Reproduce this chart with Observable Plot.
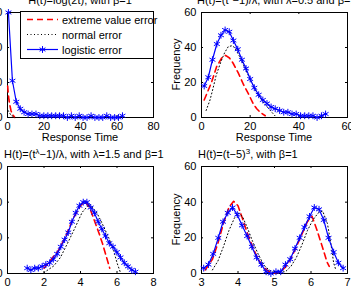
<!DOCTYPE html>
<html>
<head>
<meta charset="utf-8">
<script src="https://cdn.jsdelivr.net/npm/d3@7"></script>
<script src="https://cdn.jsdelivr.net/npm/@observablehq/plot@0.6"></script>
<style>
  html, body { margin: 0; padding: 0; background: #fff; }
  #fig { position: relative; width: 351px; height: 288px; overflow: hidden; }
  #fig svg { position: absolute; left: 0; top: 0; }
</style>
</head>
<body>
<div id="fig"></div>
<script>
// ---- Panel 1: H(t)=log(2t), beta=1 ----
const p1LogisticT = [0.5,2.7,4.8,7.0,9.1,11.3,13.4,15.6,17.7,19.9,22.1,24.2,26.4,28.5,30.7,32.8,35.0,37.1,39.3,41.4,43.6,45.8,47.9,50.1,52.2,54.4,56.5,58.7,60.8,63.0];
const p1LogisticF = [60,21,9,5,3,2,2,2,1,1,1,1,1,1,1,0,1,0,1,0,0,1,0,0,0,1,0,0,0,1];
const p1ExtremeT = [0.1,0.4,0.8,1.3,1.9,2.6,3.3,4.0];
const p1ExtremeF = [18,14,10,7,4,2,1,0];
const p1NormalT = [0.3,0.9,1.5,2.1,2.7,3.3,4.0,5.0,6.0];
const p1NormalF = [4,3,2,1,1,0,0,0,0];

// ---- Panel 2: H(t)=(t^λ−1)/λ, λ=0.5 ----
const p2LogisticT = [1.1,2.8,4.5,6.3,8.0,9.7,11.4,13.1,14.9,16.6,18.3,20.0,21.7,23.5,25.2,26.9,28.6,30.3,32.1,33.8,35.5,37.2,38.9,40.7,42.4,44.1,45.8,47.5,49.3,51.0];
const p2LogisticF = [18,23,33,42,47,50,49,44,39,33,28,22,17,13,10,8,6,5,4,3,3,2,2,1,1,1,1,0,1,2];
const p2ExtremeT = [1.1,2.6,4.1,6.2,8.3,9.9,11.5,13.0,15.1,17.2,19.3,21.3,22.7,24.1,26.2];
const p2ExtremeF = [10,15,20,29,34,35.5,34,31,25.5,19,13.5,7.7,5,3,1];
const p2NormalT = [1.9,3.5,4.8,6.0,8.0,9.5,11.0,12.5,13.6,16.0,18.7,22.0,25.4,28.9,30.2];
const p2NormalF = [4,10,17,24,32,37,40.5,41,40,34,25.6,16,8.7,3,1];

// ---- Panel 3: H(t)=(t^λ−1)/λ, λ=1.5 ----
const p3LogisticT = [1.08,1.28,1.49,1.69,1.90,2.10,2.31,2.51,2.72,2.92,3.13,3.33,3.53,3.74,3.94,4.15,4.35,4.56,4.76,4.97,5.17,5.37,5.58,5.78,5.99,6.19,6.40,6.60,6.81,7.01];
const p3LogisticF = [3,2,3,3,4,5,6,8,11,15,19,23,29,34,38,40,40,37,34,29,25,21,17,15,12,9,6,4,2,1];
const p3ExtremeT = [2.0,2.4,2.8,3.2,3.6,4.0,4.25,4.5,4.75,5.0,5.2,5.4,5.6];
const p3ExtremeF = [3,8,13,21,31,38,40.5,37,30,23,17,10,3];
const p3NormalT = [2.0,2.54,2.9,3.36,3.73,4.09,4.5,4.9,5.2,5.55,5.82,6.0,6.19];
const p3NormalF = [0.5,4.3,9,18.4,26.3,34.3,39,34,27.8,20,12.8,6,0.5];

// ---- Panel 4: H(t)=(t−5)^3 ----
const p4LogisticT = [3.06,3.19,3.32,3.46,3.59,3.72,3.85,3.98,4.11,4.25,4.38,4.51,4.64,4.77,4.90,5.04,5.17,5.30,5.43,5.56,5.69,5.82,5.96,6.09,6.22,6.35,6.48,6.62,6.75,6.88];
const p4LogisticF = [3,5,11,20,29,34,37,33,27,21,15,9,5,1,0,1,1,5,8,14,20,26,32,37,36,30,20,12,6,3];
const p4ExtremeT = [3.1,3.3,3.45,3.6,3.75,3.88,4.0,4.12,4.25,4.4,4.55,4.7,4.85,5.0,5.15,5.3,5.45,5.6,5.75,5.9,6.03,6.17,6.31,6.44,6.5];
const p4ExtremeF = [2,8,17,28,37,40.5,38,31,23,15,8,3.5,1,0.3,0.8,3.5,8.5,15,22,29,32,24,15,6.4,4];
const p4NormalT = [3.3,3.45,3.6,3.75,3.9,4.0,4.12,4.25,4.4,4.55,4.7,4.85,5.0,5.3,5.45,5.6,5.75,5.9,6.05,6.2,6.32,6.45,6.55,6.62,6.68];
const p4NormalF = [2,7,15,24,31,34,32,26,18,11,5,2,0.5,1,4,9,16,24,30,34,35,28,16,6,2];

// ---- Axes ticks ----
const freqTicks = [0, 20, 40, 60];
const p1TimeTicks = [0, 20, 40, 60, 80];
const p2TimeTicks = [0, 20, 40, 60];
const p3TimeTicks = [0, 2, 4, 6, 8];
const p4TimeTicks = [3, 4, 5, 6, 7];

const legendLabels = ["extreme value error", "normal error", "logistic error"];

const W = 351, H = 288;
const FONT = '"Liberation Sans", Arial, Helvetica, sans-serif';
const RED = "#ff0000", BLUE = "#0000ff", BLACK = "#000000";
const fig = document.getElementById("fig");

const rows = (t, f) => t.map((v, i) => ({t: v, f: f[i]}));

function panel({box, xDomain, xTicks, extreme, normal, logistic}) {
  const [x0, x1, y0, y1] = box;
  const pw = x1 - x0, ph = y1 - y0;
  const svg = Plot.plot({
    width: W, height: H,
    marginLeft: x0, marginRight: W - x1, marginTop: y0, marginBottom: H - y1,
    style: {background: "transparent", fontFamily: FONT, fontSize: "11px", color: "#000"},
    x: {domain: xDomain},
    y: {domain: [0, 60]},
    marks: [
      Plot.frame({stroke: BLACK, strokeWidth: 1}),
      // inward ticks on all four sides
      Plot.tickX(xTicks, {x: d => d, insetTop: ph - 2, stroke: BLACK}),
      Plot.tickX(xTicks, {x: d => d, insetBottom: ph - 2, stroke: BLACK}),
      Plot.tickY(freqTicks, {y: d => d, insetRight: pw - 2, stroke: BLACK}),
      Plot.tickY(freqTicks, {y: d => d, insetLeft: pw - 2, stroke: BLACK}),
      Plot.axisX(xTicks, {tickSize: 0, tickPadding: 5, label: null, fill: BLACK}),
      Plot.axisY(freqTicks, {tickSize: 0, tickPadding: 5, label: null, fill: BLACK}),
      Plot.line(rows(extreme[0], extreme[1]), {x: "t", y: "f", stroke: RED, strokeWidth: 1.6, strokeDasharray: "6,4"}),
      Plot.line(rows(normal[0], normal[1]), {x: "t", y: "f", stroke: BLACK, strokeWidth: 1, strokeDasharray: "1,2.5"}),
      Plot.line(rows(logistic[0], logistic[1]), {x: "t", y: "f", stroke: BLUE, strokeWidth: 1.2}),
      Plot.dot(rows(logistic[0], logistic[1]), {x: "t", y: "f", symbol: "asterisk", r: 3.2, stroke: BLUE, strokeWidth: 1})
    ]
  });
  fig.appendChild(svg);
  return d3.select(svg);
}

function title(sel, parts, x, y, anchor) {
  const t = sel.append("text").attr("x", x).attr("y", y)
    .attr("text-anchor", anchor).attr("font-family", FONT).attr("font-size", 11).attr("fill", BLACK);
  for (const p of parts) {
    if (typeof p === "string") t.append("tspan").text(p);
    else t.append("tspan").attr("dy", p.dy).attr("font-size", p.size || 11).text(p.text);
  }
}

function xLabel(sel, text, cx, y) {
  sel.append("text").attr("x", cx).attr("y", y).attr("text-anchor", "middle")
    .attr("font-family", FONT).attr("font-size", 11).attr("fill", BLACK).text(text);
}

function yLabel(sel, text, x, cy) {
  sel.append("text").attr("transform", `translate(${x},${cy}) rotate(-90)`).attr("text-anchor", "middle")
    .attr("font-family", FONT).attr("font-size", 11).attr("fill", BLACK).text(text);
}

// Top-left
const s1 = panel({box: [7, 153, 12, 117], xDomain: [0, 80], xTicks: p1TimeTicks,
  extreme: [p1ExtremeT, p1ExtremeF], normal: [p1NormalT, p1NormalF], logistic: [p1LogisticT, p1LogisticF]});
title(s1, ["H(t)=log(2t), with β=1"], 80, 4, "middle");
xLabel(s1, "Response Time", 80, 141);

// legend
const lg = s1.append("g");
lg.append("rect").attr("x", 20.5).attr("y", 11.5).attr("width", 133).attr("height", 47)
  .attr("fill", "#fff").attr("stroke", BLACK);
const legendStyles = [
  {stroke: RED, w: 1.6, dash: "6,4"},
  {stroke: BLACK, w: 1, dash: "1,2.5"},
  {stroke: BLUE, w: 1.2, dash: null, marker: true}
];
legendLabels.forEach((label, i) => {
  const cy = 19.5 + i * 15, st = legendStyles[i];
  const ln = lg.append("line").attr("x1", 27).attr("x2", 58).attr("y1", cy).attr("y2", cy)
    .attr("stroke", st.stroke).attr("stroke-width", st.w);
  if (st.dash) ln.attr("stroke-dasharray", st.dash);
  if (st.marker) lg.append("path").attr("transform", `translate(42.5,${cy})`)
    .attr("d", d3.symbol(d3.symbolAsterisk, Math.PI * 3.2 * 3.2)()).attr("stroke", BLUE).attr("fill", "none");
  lg.append("text").attr("x", 62).attr("y", cy + 4).attr("text-anchor", "start")
    .attr("font-family", FONT).attr("font-size", 11).attr("fill", BLACK).text(label);
});

// Top-right
const s2 = panel({box: [201, 347, 12, 117], xDomain: [0, 60], xTicks: p2TimeTicks,
  extreme: [p2ExtremeT, p2ExtremeF], normal: [p2NormalT, p2NormalF], logistic: [p2LogisticT, p2LogisticF]});
title(s2, ["H(t)=(t", {text: "λ", dy: -4, size: 8}, {text: "−1)/λ, with λ=0.5 and β=1", dy: 4}], 197, 4, "start");
xLabel(s2, "Response Time", 274, 141);
yLabel(s2, "Frequency", 180, 64.5);

// Bottom-left
const s3 = panel({box: [7, 153, 166, 273], xDomain: [0, 8], xTicks: p3TimeTicks,
  extreme: [p3ExtremeT, p3ExtremeF], normal: [p3NormalT, p3NormalF], logistic: [p3LogisticT, p3LogisticF]});
title(s3, ["H(t)=(t", {text: "λ", dy: -4, size: 8}, {text: "−1)/λ, with λ=1.5 and β=1", dy: 4}], 4, 158, "start");

// Bottom-right
const s4 = panel({box: [201, 347, 166, 273], xDomain: [3, 7], xTicks: p4TimeTicks,
  extreme: [p4ExtremeT, p4ExtremeF], normal: [p4NormalT, p4NormalF], logistic: [p4LogisticT, p4LogisticF]});
title(s4, ["H(t)=(t−5)", {text: "3", dy: -4, size: 8}, {text: ", with β=1", dy: 4}], 198, 158, "start");
yLabel(s4, "Frequency", 180, 219.5);
</script>
</body>
</html>
